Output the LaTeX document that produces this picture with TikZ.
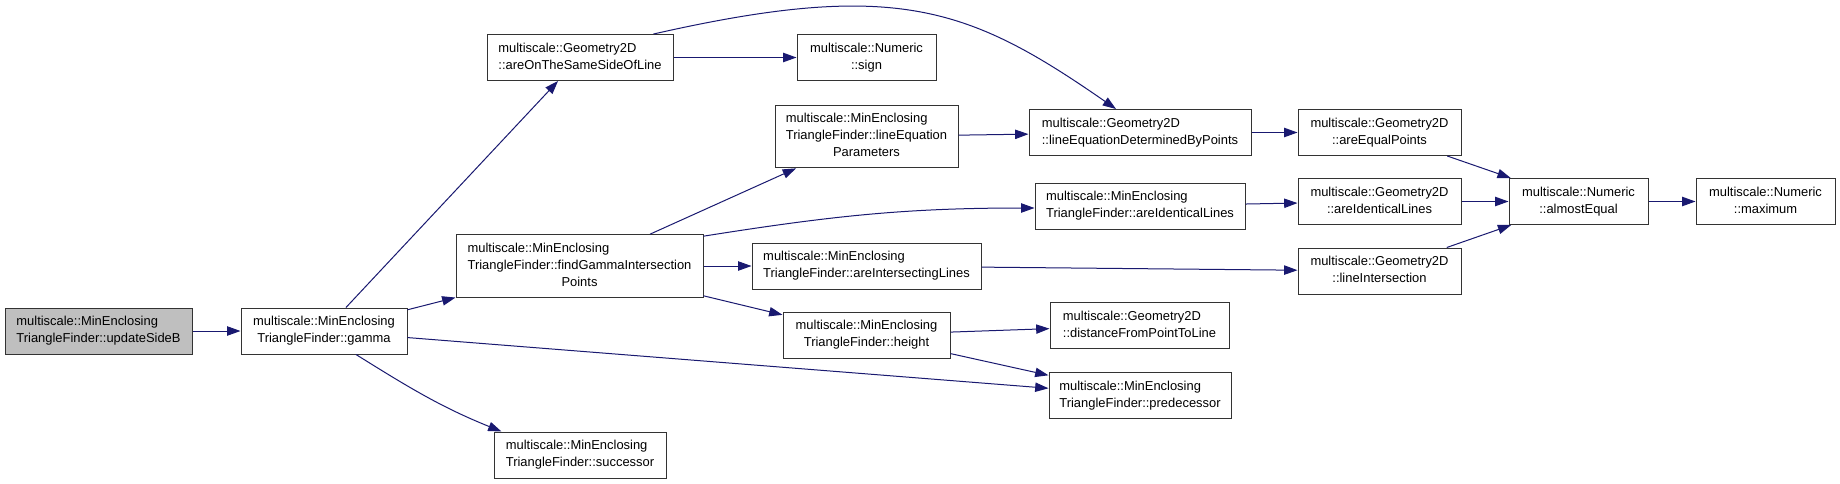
\documentclass[tikz,border=0pt]{standalone}
\usepackage{fontspec}
\setmainfont{Liberation Sans}
\usepackage{tikz}
\usetikzlibrary{arrows.meta,calc}
\definecolor{edgeblue}{HTML}{191970}
\newcommand{\fnlines}[1]{\begin{tabular}{@{}l@{}}#1\end{tabular}}
\newcommand{\lastline}[1]{\multicolumn{1}{@{}c@{}}{#1}}

\begin{document}
\begin{tikzpicture}[x=0.75pt, y=-0.75pt,
  fn/.style={draw=black!80, line width=0.75pt, fill=white, inner sep=0pt,
    minimum height=34.5pt, font=\fontsize{9.7pt}{12.75pt}\selectfont},
  wd/.style={minimum width=#1*0.75pt},
  tall/.style={minimum height=47pt},
  call/.style={-{Triangle[length=10pt,width=7pt]}, edgeblue, line width=0.75pt}]
\useasboundingbox[fill=white] (0,0) rectangle (1840,483);

% Caller and first level
\node[fn, wd=187, fill=black!25] (updB) at (98.5,331) {\fnlines{multiscale::MinEnclosing\\\lastline{TriangleFinder::updateSideB}}};
\node[fn, wd=166] (gamma) at (324,331) {\fnlines{multiscale::MinEnclosing\\\lastline{TriangleFinder::gamma}}};

% Second column
\node[fn, wd=186] (sameSide) at (580,57.5) {\fnlines{multiscale::Geometry2D\\\lastline{::areOnTheSameSideOfLine}}};
\node[fn, wd=247, tall] (findGamma) at (579.5,266) {\fnlines{multiscale::MinEnclosing\\TriangleFinder::findGammaIntersection\\\lastline{Points}}};
\node[fn, wd=172] (successor) at (580,455) {\fnlines{multiscale::MinEnclosing\\\lastline{TriangleFinder::successor}}};

% Third column
\node[fn, wd=139] (sign) at (866.5,57.5) {\fnlines{multiscale::Numeric\\\lastline{::sign}}};
\node[fn, wd=183, tall] (lineParams) at (866.5,136.5) {\fnlines{multiscale::MinEnclosing\\TriangleFinder::lineEquation\\\lastline{Parameters}}};
\node[fn, wd=229] (intersecting) at (866.5,266) {\fnlines{multiscale::MinEnclosing\\\lastline{TriangleFinder::areIntersectingLines}}};
\node[fn, wd=167] (height) at (866.5,335) {\fnlines{multiscale::MinEnclosing\\\lastline{TriangleFinder::height}}};

% Fourth column
\node[fn, wd=222] (lineByPoints) at (1140,132.5) {\fnlines{multiscale::Geometry2D\\\lastline{::lineEquationDeterminedByPoints}}};
\node[fn, wd=210] (identMEF) at (1140,206) {\fnlines{multiscale::MinEnclosing\\\lastline{TriangleFinder::areIdenticalLines}}};
\node[fn, wd=179] (distance) at (1139.5,325.5) {\fnlines{multiscale::Geometry2D\\\lastline{::distanceFromPointToLine}}};
\node[fn, wd=182] (predecessor) at (1140,395.5) {\fnlines{multiscale::MinEnclosing\\\lastline{TriangleFinder::predecessor}}};

% Geometry2D helpers
\node[fn, wd=163] (equalPts) at (1379.5,132.5) {\fnlines{multiscale::Geometry2D\\\lastline{::areEqualPoints}}};
\node[fn, wd=163] (identG2D) at (1379.5,201.5) {\fnlines{multiscale::Geometry2D\\\lastline{::areIdenticalLines}}};
\node[fn, wd=163] (lineInt) at (1379.5,271) {\fnlines{multiscale::Geometry2D\\\lastline{::lineIntersection}}};

% Numeric
\node[fn, wd=139] (almostEq) at (1578.5,201.5) {\fnlines{multiscale::Numeric\\\lastline{::almostEqual}}};
\node[fn, wd=139] (maximum) at (1765.5,201.5) {\fnlines{multiscale::Numeric\\\lastline{::maximum}}};

% Calls
\draw[call] (updB) -- (gamma);
\draw[call] (gamma) -- (sameSide);
\draw[call] (gamma) -- (findGamma);
\draw[call] (gamma) -- (predecessor);
\draw[call] ($(gamma.south)+(32,0)$) to[out=-32,in=158] ($(successor.north west)+(8,0)$);
\draw[call] (sameSide) -- (sign);
\draw[call] ($(sameSide.north east)+(-20,0)$) .. controls (896,-21) and (969,7) .. ($(lineByPoints.north)+(-24,0)$);
\draw[call] (findGamma) -- (lineParams);
\draw[call] ($(findGamma.north east)+(0,2)$) to[out=9,in=180] ($(identMEF.west)+(0,2)$);
\draw[call] (findGamma) -- (intersecting);
\draw[call] (findGamma) -- (height);
\draw[call] (lineParams) -- (lineByPoints);
\draw[call] (lineByPoints) -- (equalPts);
\draw[call] (identMEF) -- (identG2D);
\draw[call] (intersecting) -- (lineInt);
\draw[call] (height) -- (distance);
\draw[call] (height) -- (predecessor);
\draw[call] (equalPts) -- (almostEq);
\draw[call] (identG2D) -- (almostEq);
\draw[call] (lineInt) -- (almostEq);
\draw[call] (almostEq) -- (maximum);
\end{tikzpicture}
\end{document}
